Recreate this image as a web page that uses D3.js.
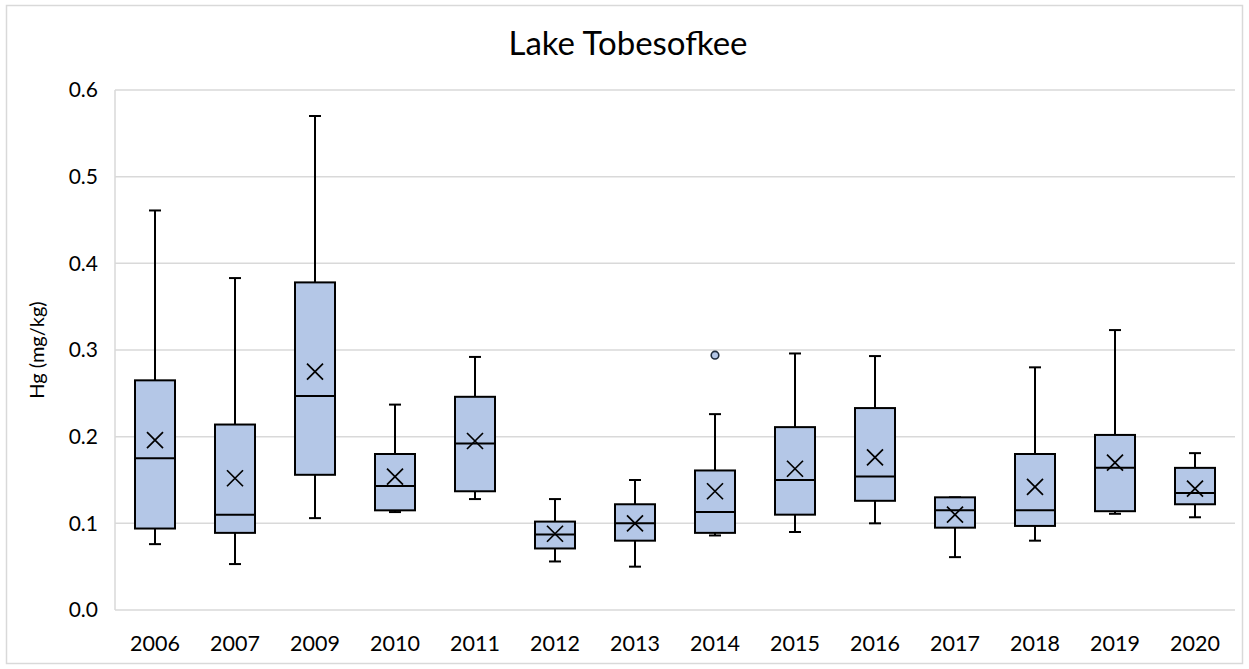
<!DOCTYPE html>
<html>
<head>
<meta charset="utf-8">
<script src="https://cdn.jsdelivr.net/npm/d3@7"></script>
<style>
  body { margin: 0; background: #fff; }
  text { font-family: Lato, "Open Sans", sans-serif; fill: #000; }
</style>
</head>
<body>
<svg></svg>
<script>
let width = 1249;
let height = 669;

// box plot values (mg/kg)
let years = ['2006','2007','2009','2010','2011','2012','2013','2014','2015','2016','2017','2018','2019','2020'];
let whiskerLow  = [0.076, 0.053, 0.106, 0.113, 0.128, 0.056, 0.050, 0.086, 0.090, 0.100, 0.061, 0.080, 0.111, 0.107];
let q1          = [0.094, 0.089, 0.156, 0.115, 0.137, 0.071, 0.080, 0.089, 0.110, 0.126, 0.095, 0.097, 0.114, 0.122];
let medians     = [0.175, 0.110, 0.247, 0.143, 0.192, 0.087, 0.100, 0.113, 0.150, 0.154, 0.115, 0.115, 0.164, 0.135];
let q3          = [0.265, 0.214, 0.378, 0.180, 0.246, 0.102, 0.122, 0.161, 0.211, 0.233, 0.130, 0.180, 0.202, 0.164];
let whiskerHigh = [0.461, 0.383, 0.570, 0.237, 0.292, 0.128, 0.150, 0.226, 0.296, 0.293, 0.130, 0.280, 0.323, 0.181];
let means       = [0.196, 0.152, 0.275, 0.154, 0.195, 0.088, 0.100, 0.137, 0.163, 0.176, 0.110, 0.142, 0.170, 0.140];
let outlierYears  = ['2014'];
let outlierValues = [0.294];

let yTicks = [0, 0.1, 0.2, 0.3, 0.4, 0.5, 0.6];

let boxes = years.map((y, i) => ({
  year: y, lo: whiskerLow[i], q1: q1[i], med: medians[i],
  q3: q3[i], hi: whiskerHigh[i], mean: means[i]
}));
let outliers = outlierYears.map((y, i) => ({year: y, value: outlierValues[i]}));

let margin = {top: 90, right: 14, bottom: 59, left: 115};

let svg = d3.select('svg')
  .attr('width', width)
  .attr('height', height);

// outer chart border
svg.append('rect')
  .attr('x', 6.5).attr('y', 5.5)
  .attr('width', width - 13).attr('height', height - 11)
  .attr('fill', 'none')
  .attr('stroke', '#d9d9d9')
  .attr('stroke-width', 1.5);

let x = d3.scaleBand()
  .domain(years)
  .range([margin.left, width - margin.right])
  .paddingInner(0)
  .paddingOuter(0);

let y = d3.scaleLinear()
  .domain([0, 0.6])
  .range([height - margin.bottom, margin.top]);

// gridlines
svg.append('g')
  .selectAll('line')
  .data(yTicks)
  .enter()
  .append('line')
    .attr('x1', margin.left)
    .attr('x2', width - margin.right)
    .attr('y1', d => y(d))
    .attr('y2', d => y(d))
    .attr('stroke', '#d9d9d9')
    .attr('stroke-width', 1.5);

// left axis line
svg.append('line')
  .attr('x1', margin.left).attr('x2', margin.left)
  .attr('y1', y(0.6)).attr('y2', y(0))
  .attr('stroke', '#d9d9d9')
  .attr('stroke-width', 1.5);

// y axis labels
let yAxis = svg.append('g')
  .attr('transform', `translate(${margin.left}, 0)`)
  .call(d3.axisLeft(y).tickValues(yTicks).tickFormat(d3.format('.1f')).tickSize(0).tickPadding(17));
yAxis.select('.domain').remove();
yAxis.selectAll('text')
  .style('font-size', '21px')
  .style('font-family', 'Lato, "Open Sans", sans-serif')
  .attr('fill', '#000');

// x axis labels
let xAxis = svg.append('g')
  .attr('transform', `translate(0, ${y(0)})`)
  .call(d3.axisBottom(x).tickSize(0).tickPadding(26));
xAxis.select('.domain').remove();
xAxis.selectAll('text')
  .style('font-size', '21.5px')
  .style('font-family', 'Lato, "Open Sans", sans-serif')
  .attr('fill', '#000');

// title (centred on the chart area, like Excel)
svg.append('text')
  .attr('x', 628)
  .attr('y', 55)
  .attr('text-anchor', 'middle')
  .style('font-size', '33px')
  .text('Lake Tobesofkee');

// y axis title
svg.append('text')
  .attr('transform', `translate(44, ${(y(0) + y(0.6)) / 2}) rotate(-90)`)
  .attr('text-anchor', 'middle')
  .style('font-size', '20px')
  .text('Hg (mg/kg)');

let boxW = x.bandwidth() * 0.5;
let capW = 12;
let cx = d => x(d.year) + x.bandwidth() / 2;

let g = svg.append('g').selectAll('.box')
  .data(boxes)
  .enter()
  .append('g')
    .classed('box', true);

// whiskers
g.append('line')
  .attr('x1', cx).attr('x2', cx)
  .attr('y1', d => y(d.hi)).attr('y2', d => y(d.q3))
  .attr('stroke', '#000').attr('stroke-width', 2);
g.append('line')
  .attr('x1', cx).attr('x2', cx)
  .attr('y1', d => y(d.q1)).attr('y2', d => y(d.lo))
  .attr('stroke', '#000').attr('stroke-width', 2);
// caps
g.append('line')
  .attr('x1', d => cx(d) - capW / 2).attr('x2', d => cx(d) + capW / 2)
  .attr('y1', d => y(d.hi)).attr('y2', d => y(d.hi))
  .attr('stroke', '#000').attr('stroke-width', 2);
g.append('line')
  .attr('x1', d => cx(d) - capW / 2).attr('x2', d => cx(d) + capW / 2)
  .attr('y1', d => y(d.lo)).attr('y2', d => y(d.lo))
  .attr('stroke', '#000').attr('stroke-width', 2);

// boxes
g.append('rect')
  .attr('x', d => cx(d) - boxW / 2)
  .attr('width', boxW)
  .attr('y', d => y(d.q3))
  .attr('height', d => y(d.q1) - y(d.q3))
  .attr('fill', '#b4c7e7')
  .attr('stroke', '#000')
  .attr('stroke-width', 2);

// median
g.append('line')
  .attr('x1', d => cx(d) - boxW / 2).attr('x2', d => cx(d) + boxW / 2)
  .attr('y1', d => y(d.med)).attr('y2', d => y(d.med))
  .attr('stroke', '#000').attr('stroke-width', 2);

// mean marker (X)
let xs = 8;
g.append('path')
  .attr('d', d => {
    let px = cx(d), py = y(d.mean);
    return `M${px - xs},${py - xs}L${px + xs},${py + xs}M${px - xs},${py + xs}L${px + xs},${py - xs}`;
  })
  .attr('stroke', '#000')
  .attr('stroke-width', 1.7)
  .attr('fill', 'none');

// outliers
svg.append('g').selectAll('circle')
  .data(outliers)
  .enter()
  .append('circle')
    .attr('cx', d => x(d.year) + x.bandwidth() / 2)
    .attr('cy', d => y(d.value))
    .attr('r', 3.8)
    .attr('fill', '#b4c7e7')
    .attr('stroke', '#1f2d3d')
    .attr('stroke-width', 1.6);
</script>
</body>
</html>
